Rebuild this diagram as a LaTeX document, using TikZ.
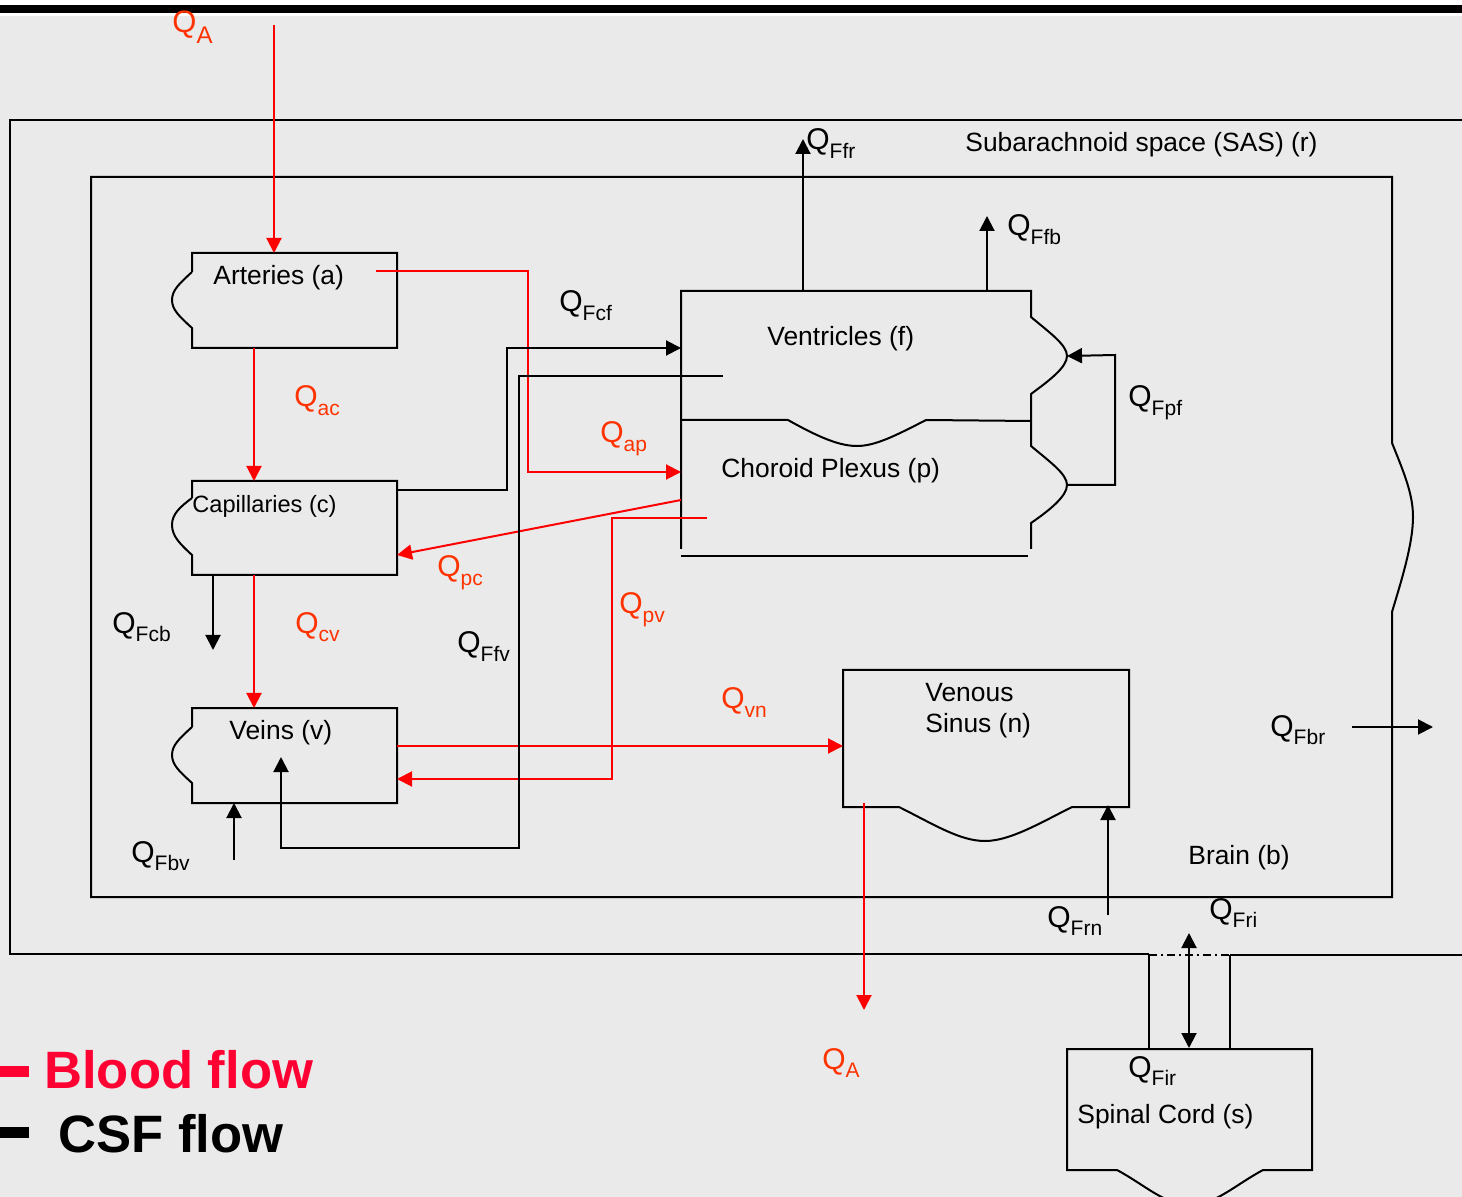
\documentclass[tikz,border=0pt]{standalone}
\usepackage{fontspec}
\setmainfont{Liberation Sans}
\usetikzlibrary{arrows.meta}
\definecolor{bgc}{HTML}{EAEAEA}
\definecolor{qred}{HTML}{FF3300}
\definecolor{bred}{HTML}{FF0000}
\definecolor{legred}{HTML}{FF0033}
\newcommand{\qlab}[1]{{\fontsize{15}{15}\selectfont Q}\raisebox{-4.2pt}{\fontsize{10.5}{10.5}\selectfont #1}}
\newcommand{\qlabA}{{\fontsize{15.5}{15.5}\selectfont Q}\raisebox{-5.2pt}{\fontsize{12}{12}\selectfont A}}
\begin{document}
\begin{tikzpicture}[x=0.5pt,y=-0.5pt,
  wall/.style={line width=1pt, black},
  csf/.style={line width=1pt, black, -{Triangle[length=7.5pt,width=7.5pt]}},
  blood/.style={line width=1pt, bred, -{Triangle[length=7.5pt,width=7.5pt]}},
  lbl/.style={anchor=base west, inner sep=0pt, font=\fontsize{13.2}{15}\selectfont},
  ql/.style={anchor=base west, inner sep=0pt},
  qr/.style={ql, text=qred},
  leg/.style={anchor=base west, inner sep=0pt, font=\fontsize{26.3}{30}\selectfont\bfseries}]
\path[use as bounding box] (0,0) rectangle (1462,1197);
\begin{scope}
\clip (0,0) rectangle (1462,1197);
\fill[bgc] (0,0) rectangle (1462,1197);
\fill[white] (0,0) rectangle (1462,16);
\fill[black] (0,5) rectangle (1462,13);

% Subarachnoid space
\draw[wall] (1462,120) -- (10,120) -- (10,954) -- (1149,954);
\draw[wall] (1230,955) -- (1462,955);
\draw[line width=1pt, dash pattern=on 4pt off 2pt on 1pt off 2pt] (1149,955) -- (1230,955);
\draw[wall] (1149,955) -- (1149,1049);
\draw[wall] (1230,955) -- (1230,1049);

% Brain
\draw[wall] (1392,443) -- (1392,177) -- (91,177) -- (91,897) -- (1392,897) -- (1392,612)
  .. controls (1400,585) and (1413,545) .. (1413,517)
  .. controls (1413,495) and (1405,475) .. (1392,443);

% Arteries
\draw[wall] (192,272) -- (192,253) -- (397,253) -- (397,348) -- (192,348) -- (192,328)
  .. controls (180,317) and (172,310) .. (172,300)
  .. controls (172,290) and (180,283) .. (192,272);
% Capillaries
\draw[wall] (192,498) -- (192,481) -- (397,481) -- (397,575) -- (192,575) -- (192,555)
  .. controls (180,544) and (172,536) .. (172,525)
  .. controls (172,514) and (180,507) .. (192,498);
% Veins
\draw[wall] (192,727) -- (192,708) -- (397,708) -- (397,803) -- (192,803) -- (192,783)
  .. controls (180,772) and (172,765) .. (172,755)
  .. controls (172,745) and (180,738) .. (192,727);

% Ventricles / choroid plexus
\draw[wall] (681,549) -- (681,291) -- (1031,291) -- (1031,317)
  .. controls (1050,333) and (1067,345) .. (1067,356)
  .. controls (1067,367) and (1050,380) .. (1031,394) -- (1031,446)
  .. controls (1050,462) and (1067,474) .. (1067,485)
  .. controls (1067,496) and (1050,510) .. (1031,523) -- (1031,549);
\draw[wall] (681,420) -- (788,420) .. controls (820,438) and (840,446) .. (857,446)
  .. controls (875,446) and (895,436) .. (926,420) -- (1031,421);
\draw[wall] (681,556) -- (1028,556);

% Venous sinus
\draw[wall] (899,807) -- (843,807) -- (843,670) -- (1129,670) -- (1129,807) -- (1072,807)
  .. controls (1040,823) and (1010,841) .. (985,841)
  .. controls (960,841) and (935,825) .. (899,807);

% Spinal cord
\draw[wall] (1117,1170) -- (1067,1170) -- (1067,1049) -- (1312,1049) -- (1312,1170) -- (1263,1170)
  .. controls (1235,1185) and (1215,1205) .. (1190,1205)
  .. controls (1165,1205) and (1145,1185) .. (1117,1170);

% coordinates
\coordinate (qaTop) at (274,25);
\coordinate (artTop) at (274,253);
\coordinate (artBot) at (254,348);
\coordinate (capTop) at (254,481);
\coordinate (capBot) at (254,575);
\coordinate (veinTop) at (254,708);
\coordinate (artIn) at (376,271);
\coordinate (plxIn) at (681,472);
\coordinate (plxOut) at (681,500);
\coordinate (capR) at (397,555);
\coordinate (plxIn2) at (707,518);
\coordinate (veinR2) at (397,779);
\coordinate (veinR) at (397,746);
\coordinate (sinL) at (843,746);
\coordinate (sinIn) at (864,803);
\coordinate (qaBot) at (864,1010);
\coordinate (capR2) at (397,490);
\coordinate (venL) at (681,348);
\coordinate (venIn) at (723,376);
\coordinate (veinIn) at (281,757);
\coordinate (venT1) at (803,291);
\coordinate (ffrTip) at (803,139);
\coordinate (venT2) at (987,291);
\coordinate (ffbTip) at (987,216);
\coordinate (plxR) at (1067,485);
\coordinate (venR) at (1067,356);
\coordinate (capB2) at (213,575);
\coordinate (fcbTip) at (213,650);
\coordinate (fbvStart) at (234,860);
\coordinate (veinB) at (234,803);
\coordinate (frnStart) at (1108,915);
\coordinate (sinB) at (1108,805);
\coordinate (fbrStart) at (1352,727);
\coordinate (fbrTip) at (1433,727);
\coordinate (friTop) at (1189,933);
\coordinate (spTop) at (1189,1048);

% blood connectors
\draw[blood] (qaTop) -- (artTop);
\draw[blood] (artBot) -- (capTop);
\draw[blood] (capBot) -- (veinTop);
\draw[blood] (artIn) -- (528,271) -- (528,472) -- (plxIn);
\draw[blood] (plxOut) -- (capR);
\draw[blood] (plxIn2) -- (612,518) -- (612,779) -- (veinR2);
\draw[blood] (veinR) -- (sinL);
\draw[blood] (sinIn) -- (qaBot);

% CSF connectors
\draw[csf] (capR2) -- (507,490) -- (507,348) -- (venL);
\draw[csf] (venIn) -- (519,376) -- (519,848) -- (281,848) -- (veinIn);
\draw[csf] (venT1) -- (ffrTip);
\draw[csf] (venT2) -- (ffbTip);
\draw[csf] (plxR) -- (1115,485) -- (1115,355) -- (venR);
\draw[csf] (capB2) -- (fcbTip);
\draw[csf] (fbvStart) -- (veinB);
\draw[csf] (frnStart) -- (sinB);
\draw[csf] (fbrStart) -- (fbrTip);
\draw[line width=1pt, {Triangle[length=7.5pt,width=7.5pt]}-{Triangle[length=7.5pt,width=7.5pt]}] (friTop) -- (spTop);

% box texts
\node[lbl] (tArt) at (213,285) {Arteries (a)};
\node[lbl, font=\fontsize{11.8}{14}\selectfont] (tCap) at (192,513) {Capillaries (c)};
\node[lbl] (tVein) at (229,740) {Veins (v)};
\node[lbl] (tVen) at (767,346) {Ventricles (f)};
\node[lbl] (tPlx) at (721,478) {Choroid Plexus (p)};
\node[lbl] (tSin1) at (925,702) {Venous};
\node[lbl] (tSin2) at (925,733) {Sinus (n)};
\node[lbl] (tSAS) at (965,152) {Subarachnoid space (SAS) (r)};
\node[lbl] (tBrain) at (1188,864) {Brain (b)};
\node[lbl] (tSp) at (1077,1123) {Spinal Cord (s)};

% flow labels
\node[qr] (lQAt) at (172,33) {\qlabA};
\node[qr] (lQac) at (294,407) {\qlab{ac}};
\node[qr] (lQcv) at (295,633) {\qlab{cv}};
\node[qr] (lQap) at (600,443) {\qlab{ap}};
\node[qr] (lQpc) at (437,577) {\qlab{pc}};
\node[qr] (lQpv) at (619,614) {\qlab{pv}};
\node[qr] (lQvn) at (721,709) {\qlab{vn}};
\node[qr] (lQAb) at (822,1069) {\qlab{A}};
\node[ql] (lFcf) at (559,312) {\qlab{Fcf}};
\node[ql] (lFfr) at (806,150) {\qlab{Ffr}};
\node[ql] (lFfb) at (1007,236) {\qlab{Ffb}};
\node[ql] (lFpf) at (1128,407) {\qlab{Fpf}};
\node[ql] (lFcb) at (112,633) {\qlab{Fcb}};
\node[ql] (lFfv) at (457,653) {\qlab{Ffv}};
\node[ql] (lFbv) at (131,862) {\qlab{Fbv}};
\node[ql] (lFbr) at (1270,736) {\qlab{Fbr}};
\node[ql] (lFrn) at (1047,927) {\qlab{Frn}};
\node[ql] (lFri) at (1209,919) {\qlab{Fri}};
\node[ql] (lFir) at (1128,1077) {\qlab{Fir}};

% legend
\fill[legred] (0,1066) rectangle (29,1077);
\node[leg, text=legred] (legB) at (44,1088) {Blood flow};
\fill[black] (0,1127) rectangle (29,1138);
\node[leg] (legC) at (58,1152) {CSF flow};
\end{scope}
\end{tikzpicture}
\end{document}
